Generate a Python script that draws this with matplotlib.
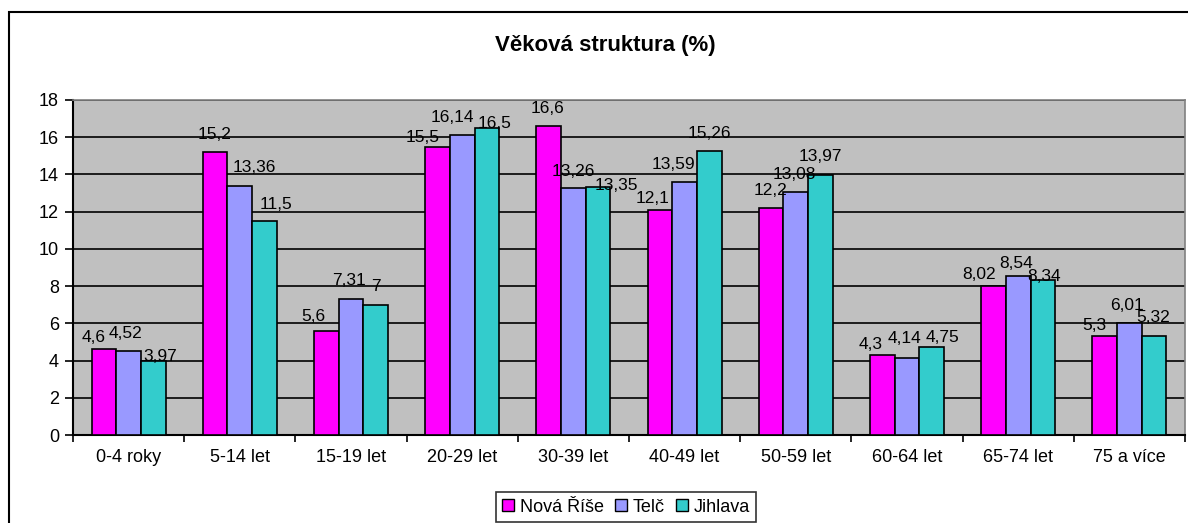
import matplotlib
matplotlib.use("Agg")
import matplotlib.pyplot as plt
import numpy as np
from matplotlib.patches import Rectangle
from matplotlib.lines import Line2D

categories = ["0-4 roky", "5-14 let", "15-19 let", "20-29 let", "30-39 let",
              "40-49 let", "50-59 let", "60-64 let", "65-74 let", "75 a více"]
series_names = ["Nová Říše", "Telč", "Jihlava"]
nova_rise = [4.6, 15.2, 5.6, 15.5, 16.6, 12.1, 12.2, 4.3, 8.02, 5.3]
telc = [4.52, 13.36, 7.31, 16.14, 13.26, 13.59, 13.08, 4.14, 8.54, 6.01]
jihlava = [3.97, 11.5, 7, 16.5, 13.35, 15.26, 13.97, 4.75, 8.34, 5.32]
colors = ["#FF00FF", "#9999FF", "#33CCCC"]
yticks = [0, 2, 4, 6, 8, 10, 12, 14, 16, 18]

# data-label placement (pixels): horizontal shift and gap above bar top
label_dx = [
    [-10, -1, -13, -15, -1, -7, -1, -12, -14, -10],
    [-3, 15, -2, -10, 0, -11, -1, -2, -2, -2],
    [7, 11, 0, 8, 18, 0, 0, 11, 1, -1],
]
label_gap = [
    [7.5, 13, 10, 5, 13, 6.7, 13.3, 6, 6.7, 6.7],
    [13, 14.6, 14, 12.7, 12.7, 12.7, 12.7, 15, 8.3, 13.3],
    [0, 11.7, 14, 0, -3.7, 13.3, 14, 5, -1, 14],
]

plt.rcParams['font.family'] = ['Liberation Sans', 'DejaVu Sans']

W, H = 1188, 523
fig = plt.figure(figsize=(W / 100, H / 100), dpi=100)
fig.patch.set_facecolor("white")

# outer chart border
fig.patches.append(Rectangle((9 / W, -0.1), 1.2, (H - 12) / H + 0.1,
                             transform=fig.transFigure, fill=False,
                             edgecolor="black", linewidth=1.5))

ax = fig.add_axes([73 / W, 1 - 435 / H, (1185 - 73) / W, (435 - 100) / H])
ax.set_facecolor("#C0C0C0")

x = np.arange(len(categories))
bw = 1 / 4.5
data = [nova_rise, telc, jihlava]
for i, (vals, c, name) in enumerate(zip(data, colors, series_names)):
    pos = x + (i - 1) * bw
    ax.bar(pos, vals, width=bw, color=c, edgecolor="black", linewidth=1.2,
           zorder=3, label=name)
    for j, (p, v) in enumerate(zip(pos, vals)):
        ax.annotate(f"{v:g}".replace(".", ","), (p, v),
                    xytext=(label_dx[i][j] * 0.72, label_gap[i][j] * 0.72),
                    textcoords="offset points", ha="center", va="baseline",
                    fontsize=12.5, zorder=4)

ax.set_xlim(-0.5, len(categories) - 0.5)
ax.set_ylim(0, 18)
ax.set_yticks(yticks)
ax.set_yticklabels([str(t) for t in yticks], fontsize=13)
ax.yaxis.grid(True, color="black", linewidth=1.2, zorder=1)
ax.set_axisbelow(True)

ax.set_xticks(np.arange(len(categories) + 1) - 0.5)
ax.set_xticklabels([])
ax.set_xticks(x, minor=True)
ax.set_xticklabels(categories, minor=True, fontsize=13)
ax.tick_params(axis="x", which="major", direction="out", length=5, width=1.2, color="black")
ax.tick_params(axis="x", which="minor", length=0, pad=10)
ax.tick_params(axis="y", direction="out", length=6, width=1.2, pad=4)

for s in ["left", "bottom"]:
    ax.spines[s].set_color("black")
    ax.spines[s].set_linewidth(1.5)
for s in ["top", "right"]:
    ax.spines[s].set_color("#808080")
    ax.spines[s].set_linewidth(1.2)

fig.text(605 / W, 1 - 45 / H, "Věková struktura (%)", ha="center", va="center",
         fontsize=16, fontweight="bold")

handles = [Line2D([0], [0], marker="s", linestyle="none", markersize=8,
                  markerfacecolor=c, markeredgecolor="black", markeredgewidth=1)
           for c in colors]
leg = fig.legend(handles, series_names, loc="center", bbox_to_anchor=(626 / W, 1 - 507 / H),
                 ncol=3, fontsize=13, frameon=True, fancybox=False, shadow=False,
                 handlelength=0.7, handletextpad=0.3, columnspacing=0.6,
                 borderpad=0.35, borderaxespad=0)
leg.get_frame().set_edgecolor("black")
leg.get_frame().set_linewidth(1.2)

fig.savefig("out.png", dpi=100)
